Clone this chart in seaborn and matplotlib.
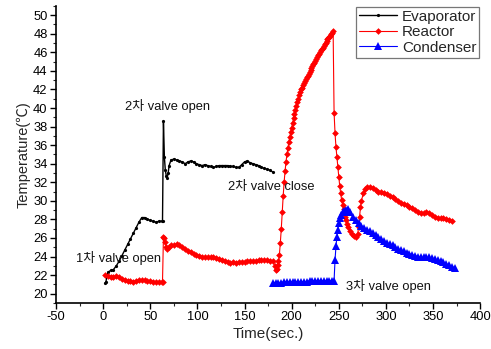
import numpy as np
import pandas as pd
import matplotlib
matplotlib.use("Agg")
import matplotlib.pyplot as plt
import seaborn as sns
from matplotlib.ticker import MultipleLocator

# ---------------- data ----------------
evap_t = np.r_[[2, 3, 5, 8], np.arange(11, 63, 3), [63, 64, 65, 66, 67, 68, 69, 70, 72], np.arange(75, 181, 3)]
evap_T = [21.1, 21.3, 22.3, 22.5,
          22.6, 23.0, 23.5, 24.1, 24.7, 25.3, 25.9, 26.5, 27.1, 27.7, 28.2, 28.2, 28.0, 27.9, 27.8, 27.7, 27.8, 27.8,
          27.8, 38.6, 34.7, 33.3, 32.7, 32.5, 33.0, 33.8, 34.4,
          34.5, 34.4, 34.3, 34.2, 34.0, 34.2, 34.3, 34.2, 34.0, 33.9, 33.8, 33.9, 33.8, 33.7, 33.6, 33.7, 33.8, 33.8,
          33.8, 33.8, 33.7, 33.7, 33.6, 33.6, 33.9, 34.2, 34.3, 34.1, 34.0, 33.9, 33.8, 33.6, 33.5, 33.4, 33.3, 33.1]

reac_t = np.r_[np.arange(2, 63, 3), [63, 64, 65, 66, 67, 68, 70, 72], np.arange(75, 181, 3), [182, 183, 184, 185],
               np.arange(186, 245, 1),
               [245, 246, 247, 248, 249, 250, 251, 252, 253, 254, 255, 256, 257, 258, 259, 260, 262, 264, 266, 268,
                270, 271, 272, 273, 274, 276, 278, 280],
               np.arange(283, 371, 3)]
reac_T = [22.0, 21.9, 21.8, 21.8, 21.9, 21.8, 21.6, 21.5, 21.4, 21.4, 21.3, 21.4, 21.5, 21.5, 21.5, 21.4, 21.4, 21.3,
          21.3, 21.3, 21.3,
          21.3, 26.1, 26.0, 25.6, 25.0, 24.8, 25.0, 25.2,
          25.2, 25.3, 25.2, 25.0, 24.8, 24.6, 24.5, 24.3, 24.2, 24.1, 24.0, 23.9, 23.9, 24.0, 23.9, 23.8, 23.7, 23.6,
          23.5, 23.4, 23.3, 23.4, 23.3, 23.4, 23.4, 23.4, 23.5, 23.5, 23.5, 23.5, 23.6, 23.6, 23.6, 23.6, 23.5, 23.5,
          23.0, 22.6, 22.7, 23.1,
          23.5, 24.2, 25.5, 27.0, 28.8, 30.5, 32.0, 33.2, 34.2, 35.0, 35.7, 36.3, 36.9, 37.4, 37.9, 38.4, 38.9, 39.4,
          39.8, 40.2, 40.6, 41.0, 41.4, 41.7, 42.0, 42.2, 42.5, 42.7, 42.9, 43.1, 43.3, 43.5, 43.7, 43.9, 44.1, 44.3,
          44.5, 44.7, 44.9, 45.1, 45.3, 45.5, 45.7, 45.8, 46.0, 46.2, 46.4, 46.5, 46.7, 46.9, 47.0, 47.2, 47.4, 47.5,
          47.7, 47.8, 48.0, 48.1, 48.3,
          39.5, 37.3, 35.8, 34.7, 33.6, 32.6, 31.6, 30.8, 30.1, 29.6, 29.1, 28.7, 28.3, 27.9, 27.5, 27.2, 26.7, 26.4,
          26.2, 26.1, 26.4, 27.2, 28.3, 29.3, 30.0, 30.8, 31.3, 31.5,
          31.5, 31.4, 31.2, 31.0, 30.9, 30.8, 30.7, 30.5, 30.4, 30.2, 30.0, 29.8, 29.7, 29.5, 29.3, 29.2, 29.0, 28.8,
          28.7, 28.7, 28.8, 28.7, 28.5, 28.3, 28.2, 28.1, 28.1, 28.0, 27.9, 27.8]

cond_t = np.r_[np.arange(180, 244, 3), [245, 246, 247, 248, 249, 250, 251, 252, 254, 256, 258, 260],
               np.arange(262, 374, 3)]
cond_T = [21.2, 21.2, 21.2, 21.2, 21.3, 21.3, 21.3, 21.3, 21.3, 21.3, 21.3, 21.3, 21.3, 21.4, 21.4, 21.4, 21.4,
          21.4, 21.4, 21.4, 21.4, 21.4,
          21.4, 23.6, 25.1, 26.1, 26.9, 27.6, 28.1, 28.5, 28.8, 28.9, 29.0, 29.1,
          28.8, 28.3, 27.9, 27.6, 27.3, 27.1, 26.9, 26.7, 26.5, 26.3, 26.1, 25.9, 25.7, 25.5, 25.3, 25.2, 25.0, 24.8,
          24.7, 24.6, 24.4, 24.3, 24.2, 24.1, 24.0, 23.9, 23.9, 23.9, 23.9, 23.8, 23.7, 23.6, 23.5, 23.4, 23.2, 23.1,
          22.9, 22.8]

assert len(evap_t) == len(evap_T), (len(evap_t), len(evap_T))
assert len(reac_t) == len(reac_T), (len(reac_t), len(reac_T))
assert len(cond_t) == len(cond_T), (len(cond_t), len(cond_T))

series_names = ["Evaporator", "Reactor", "Condenser"]
annotations = [("2차 valve open", 68.5, 40.2), ("2차 valve close", 178, 31.5),
               ("1차 valve open", 16.5, 23.8), ("3차 valve open", 303, 20.8)]

# ---------------- style ----------------
sns.set_style("ticks")
FAM = ["Liberation Sans", "Noto Sans CJK KR", "DejaVu Sans"]
plt.rcParams["font.family"] = FAM
plt.rcParams["axes.unicode_minus"] = False

fig = plt.figure(figsize=(4.91, 3.49), dpi=100)
ax = fig.add_axes([0.114, 0.132, 0.864, 0.851])

sns.lineplot(x=evap_t, y=evap_T, ax=ax, color="black", marker="o", markersize=2.3, markeredgewidth=0,
             linewidth=1.0, label=series_names[0], sort=False, estimator=None)
sns.lineplot(x=reac_t, y=reac_T, ax=ax, color="red", marker="D", markersize=3.4, markeredgewidth=0,
             linewidth=0.8, label=series_names[1], sort=False, estimator=None)
sns.lineplot(x=cond_t, y=cond_T, ax=ax, color="blue", marker="^", markersize=5.6, markeredgewidth=0,
             linewidth=0.8, label=series_names[2], sort=False, estimator=None)

for txt, x, y in annotations:
    ax.text(x, y, txt, ha="center", va="center", fontsize=9.3, color="#111111", family=FAM)

ax.set_xlim(-50, 400)
ax.set_ylim(19, 51)
ax.xaxis.set_major_locator(MultipleLocator(50))
ax.xaxis.set_minor_locator(MultipleLocator(25))
ax.yaxis.set_major_locator(MultipleLocator(2))
ax.yaxis.set_minor_locator(MultipleLocator(1))
ax.set_yticks(np.arange(20, 51, 2))
ax.tick_params(which="major", direction="out", length=4, width=1, labelsize=9.3, colors="black", pad=2)
ax.tick_params(which="minor", direction="out", length=2.5, width=0.8)
sns.despine(ax=ax)
for s in ["left", "bottom"]:
    ax.spines[s].set_linewidth(1.2)
    ax.spines[s].set_color("black")

ax.set_xlabel("Time(sec.)", fontsize=11, labelpad=3)
ax.set_ylabel("Temperature(℃)", fontsize=10.5, labelpad=2)

leg = ax.legend(loc="upper right", fontsize=11, frameon=True, fancybox=False, borderaxespad=0.05,
                handlelength=2.5, handletextpad=0.3, borderpad=0.2, labelspacing=0.1)
leg.get_frame().set_edgecolor("#555555")
leg.get_frame().set_linewidth(0.9)

fig.savefig("out.png", dpi=100)
